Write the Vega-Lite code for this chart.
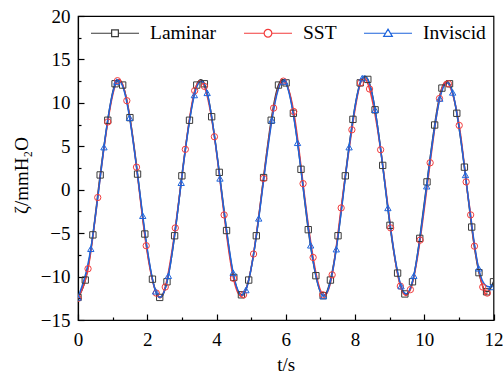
{
  "$schema": "https://vega.github.io/schema/vega-lite/v6.json",
  "width": 415.5,
  "height": 304,
  "autosize": "none",
  "padding": {"left": 78, "top": 16, "right": 10, "bottom": 55},
  "background": "white",
  "config": {
    "font": "Liberation Serif",
    "view": {"stroke": "black", "strokeWidth": 1.2},
    "legend": {"labelFont": "Liberation Serif", "titleFont": "Liberation Serif", "labelFontSize": 19.5},
    "axis": {
      "grid": false,
      "domainColor": "black",
      "domainWidth": 1.2,
      "tickColor": "black",
      "tickWidth": 1.2,
      "labelColor": "black",
      "labelFont": "Liberation Serif",
      "titleFont": "Liberation Serif",
      "labelFontSize": 19,
      "titleFontSize": 19,
      "titleFontWeight": "normal",
      "titleColor": "black",
      "labelFlush": false,
      "labelOverlap": false
    }
  },
  "data": {
    "values": [
      {"s": "Laminar", "t": 0.00, "z": -12.4},
      {"s": "Laminar", "t": 0.21, "z": -10.4},
      {"s": "Laminar", "t": 0.43, "z": -5.2},
      {"s": "Laminar", "t": 0.64, "z": 1.7},
      {"s": "Laminar", "t": 0.86, "z": 8.0},
      {"s": "Laminar", "t": 1.07, "z": 12.2},
      {"s": "Laminar", "t": 1.29, "z": 12.05},
      {"s": "Laminar", "t": 1.50, "z": 8.3},
      {"s": "Laminar", "t": 1.72, "z": 1.8},
      {"s": "Laminar", "t": 1.93, "z": -5.1},
      {"s": "Laminar", "t": 2.15, "z": -10.3},
      {"s": "Laminar", "t": 2.36, "z": -12.4},
      {"s": "Laminar", "t": 2.57, "z": -10.6},
      {"s": "Laminar", "t": 2.79, "z": -5.3},
      {"s": "Laminar", "t": 3.00, "z": 1.6},
      {"s": "Laminar", "t": 3.22, "z": 8.0},
      {"s": "Laminar", "t": 3.43, "z": 12.05},
      {"s": "Laminar", "t": 3.65, "z": 12.2},
      {"s": "Laminar", "t": 3.86, "z": 8.4},
      {"s": "Laminar", "t": 4.08, "z": 2.0},
      {"s": "Laminar", "t": 4.29, "z": -4.7},
      {"s": "Laminar", "t": 4.50, "z": -10.1},
      {"s": "Laminar", "t": 4.72, "z": -12.1},
      {"s": "Laminar", "t": 4.93, "z": -10.4},
      {"s": "Laminar", "t": 5.15, "z": -5.3},
      {"s": "Laminar", "t": 5.36, "z": 1.4},
      {"s": "Laminar", "t": 5.58, "z": 8.0},
      {"s": "Laminar", "t": 5.79, "z": 12.05},
      {"s": "Laminar", "t": 6.01, "z": 12.3},
      {"s": "Laminar", "t": 6.22, "z": 8.8},
      {"s": "Laminar", "t": 6.44, "z": 2.35},
      {"s": "Laminar", "t": 6.65, "z": -4.6},
      {"s": "Laminar", "t": 6.87, "z": -9.9},
      {"s": "Laminar", "t": 7.08, "z": -12.2},
      {"s": "Laminar", "t": 7.29, "z": -10.4},
      {"s": "Laminar", "t": 7.51, "z": -5.3},
      {"s": "Laminar", "t": 7.72, "z": 1.6},
      {"s": "Laminar", "t": 7.94, "z": 8.1},
      {"s": "Laminar", "t": 8.15, "z": 12.3},
      {"s": "Laminar", "t": 8.37, "z": 12.7},
      {"s": "Laminar", "t": 8.58, "z": 9.2},
      {"s": "Laminar", "t": 8.80, "z": 2.8},
      {"s": "Laminar", "t": 9.01, "z": -4.1},
      {"s": "Laminar", "t": 9.23, "z": -9.6},
      {"s": "Laminar", "t": 9.44, "z": -12.0},
      {"s": "Laminar", "t": 9.66, "z": -10.6},
      {"s": "Laminar", "t": 9.87, "z": -5.6},
      {"s": "Laminar", "t": 10.08, "z": 0.9},
      {"s": "Laminar", "t": 10.30, "z": 7.45},
      {"s": "Laminar", "t": 10.51, "z": 11.7},
      {"s": "Laminar", "t": 10.73, "z": 12.2},
      {"s": "Laminar", "t": 10.94, "z": 8.8},
      {"s": "Laminar", "t": 11.16, "z": 2.6},
      {"s": "Laminar", "t": 11.37, "z": -4.3},
      {"s": "Laminar", "t": 11.58, "z": -9.55},
      {"s": "Laminar", "t": 11.80, "z": -11.75},
      {"s": "Laminar", "t": 12.00, "z": -10.6},
      {"s": "SST", "t": 0.00, "z": -12.5},
      {"s": "SST", "t": 0.29, "z": -9.1},
      {"s": "SST", "t": 0.57, "z": -0.9},
      {"s": "SST", "t": 0.86, "z": 7.8},
      {"s": "SST", "t": 1.14, "z": 12.55},
      {"s": "SST", "t": 1.41, "z": 10.25},
      {"s": "SST", "t": 1.69, "z": 2.6},
      {"s": "SST", "t": 1.97, "z": -6.45},
      {"s": "SST", "t": 2.26, "z": -11.9},
      {"s": "SST", "t": 2.52, "z": -11.2},
      {"s": "SST", "t": 2.81, "z": -4.4},
      {"s": "SST", "t": 3.10, "z": 4.65},
      {"s": "SST", "t": 3.37, "z": 11.4},
      {"s": "SST", "t": 3.65, "z": 11.9},
      {"s": "SST", "t": 3.94, "z": 6.1},
      {"s": "SST", "t": 4.22, "z": -2.9},
      {"s": "SST", "t": 4.49, "z": -10.2},
      {"s": "SST", "t": 4.78, "z": -12.1},
      {"s": "SST", "t": 5.07, "z": -7.4},
      {"s": "SST", "t": 5.36, "z": 1.3},
      {"s": "SST", "t": 5.65, "z": 9.4},
      {"s": "SST", "t": 5.93, "z": 12.5},
      {"s": "SST", "t": 6.23, "z": 9.0},
      {"s": "SST", "t": 6.50, "z": 0.7},
      {"s": "SST", "t": 6.79, "z": -7.8},
      {"s": "SST", "t": 7.07, "z": -12.1},
      {"s": "SST", "t": 7.34, "z": -9.8},
      {"s": "SST", "t": 7.60, "z": -2.1},
      {"s": "SST", "t": 7.91, "z": 6.9},
      {"s": "SST", "t": 8.16, "z": 12.3},
      {"s": "SST", "t": 8.42, "z": 11.6},
      {"s": "SST", "t": 8.74, "z": 4.6},
      {"s": "SST", "t": 9.03, "z": -4.4},
      {"s": "SST", "t": 9.31, "z": -11.1},
      {"s": "SST", "t": 9.60, "z": -11.5},
      {"s": "SST", "t": 9.88, "z": -5.8},
      {"s": "SST", "t": 10.17, "z": 3.1},
      {"s": "SST", "t": 10.44, "z": 10.5},
      {"s": "SST", "t": 10.70, "z": 12.2},
      {"s": "SST", "t": 11.01, "z": 7.4},
      {"s": "SST", "t": 11.21, "z": 0.9},
      {"s": "SST", "t": 11.34, "z": -2.9},
      {"s": "SST", "t": 11.45, "z": -6.5},
      {"s": "SST", "t": 11.69, "z": -11.2},
      {"s": "SST", "t": 11.82, "z": -11.9},
      {"s": "Inviscid", "t": 0.00, "z": -12.4},
      {"s": "Inviscid", "t": 0.37, "z": -6.8},
      {"s": "Inviscid", "t": 0.75, "z": 4.9},
      {"s": "Inviscid", "t": 1.12, "z": 12.45},
      {"s": "Inviscid", "t": 1.49, "z": 8.3},
      {"s": "Inviscid", "t": 1.87, "z": -3.0},
      {"s": "Inviscid", "t": 2.24, "z": -11.7},
      {"s": "Inviscid", "t": 2.61, "z": -9.9},
      {"s": "Inviscid", "t": 2.98, "z": 0.8},
      {"s": "Inviscid", "t": 3.36, "z": 10.9},
      {"s": "Inviscid", "t": 3.73, "z": 11.15},
      {"s": "Inviscid", "t": 4.10, "z": 1.3},
      {"s": "Inviscid", "t": 4.48, "z": -9.55},
      {"s": "Inviscid", "t": 4.85, "z": -11.55},
      {"s": "Inviscid", "t": 5.22, "z": -3.3},
      {"s": "Inviscid", "t": 5.60, "z": 8.0},
      {"s": "Inviscid", "t": 5.97, "z": 12.45},
      {"s": "Inviscid", "t": 6.34, "z": 5.4},
      {"s": "Inviscid", "t": 6.72, "z": -6.4},
      {"s": "Inviscid", "t": 7.09, "z": -12.25},
      {"s": "Inviscid", "t": 7.46, "z": -6.85},
      {"s": "Inviscid", "t": 7.83, "z": 4.9},
      {"s": "Inviscid", "t": 8.21, "z": 12.85},
      {"s": "Inviscid", "t": 8.58, "z": 9.2},
      {"s": "Inviscid", "t": 8.95, "z": -2.1},
      {"s": "Inviscid", "t": 9.33, "z": -11.1},
      {"s": "Inviscid", "t": 9.70, "z": -9.9},
      {"s": "Inviscid", "t": 10.07, "z": 0.4},
      {"s": "Inviscid", "t": 10.45, "z": 10.5},
      {"s": "Inviscid", "t": 10.82, "z": 11.2},
      {"s": "Inviscid", "t": 11.19, "z": 1.7},
      {"s": "Inviscid", "t": 11.57, "z": -9.05},
      {"s": "Inviscid", "t": 11.94, "z": -11.2}
    ]
  },
  "encoding": {
    "x": {
      "field": "t",
      "type": "quantitative",
      "scale": {"domain": [0, 12], "nice": false, "zero": false},
      "axis": {
        "title": "t/s",
        "values": [0, 1, 2, 3, 4, 5, 6, 7, 8, 9, 10, 11, 12],
        "labelExpr": "datum.value % 2 === 0 ? datum.label : ''",
        "tickSize": {"condition": {"test": "datum.value % 2 !== 0", "value": -3}, "value": -6},
        "labelPadding": 16,
        "titlePadding": 3
      }
    },
    "y": {
      "field": "z",
      "type": "quantitative",
      "scale": {"domain": [-15, 20], "nice": false, "zero": false},
      "axis": {
        "title": "ζ/mmH₂O",
        "values": [-15, -12.5, -10, -7.5, -5, -2.5, 0, 2.5, 5, 7.5, 10, 12.5, 15, 17.5, 20],
        "labelExpr": "datum.value % 5 === 0 ? datum.label : ''",
        "tickSize": {"condition": {"test": "datum.value % 5 !== 0", "value": -3}, "value": -6},
        "labelPadding": 14,
        "titlePadding": 9,
        "titleY": 159
      }
    }
  },
  "layer": [
    {
      "mark": {"type": "line", "interpolate": "natural", "strokeWidth": 1.5, "clip": true},
      "encoding": {
        "color": {
          "field": "s",
          "type": "nominal",
          "scale": {"domain": ["Laminar", "SST", "Inviscid"], "range": ["#3a3a3a", "#f23c3c", "#1e64dc"]},
          "legend": null
        }
      }
    },
    {
      "mark": {"type": "point", "filled": false, "size": 40, "strokeWidth": 1, "opacity": 1, "clip": true},
      "encoding": {
        "color": {
          "field": "s",
          "type": "nominal",
          "scale": {"domain": ["Laminar", "SST", "Inviscid"], "range": ["#3a3a3a", "#f23c3c", "#1e64dc"]},
          "legend": null
        },
        "shape": {
          "field": "s",
          "type": "nominal",
          "scale": {"domain": ["Laminar", "SST", "Inviscid"], "range": ["square", "circle", "triangle-up"]},
          "legend": null
        }
      }
    },
    {
      "mark": {"type": "point", "filled": false, "size": 2304, "strokeWidth": 1.2, "opacity": 0},
      "encoding": {
        "stroke": {
          "field": "s",
          "type": "nominal",
          "scale": {"domain": ["Laminar", "SST", "Inviscid"], "range": ["#3a3a3a", "#f23c3c", "#1e64dc"]},
          "legend": {
            "orient": "none", "legendX": 12, "legendY": -8, "direction": "horizontal", "title": null,
            "symbolSize": 2304, "symbolStrokeWidth": 1.2, "labelFont": "Liberation Serif", "labelFontSize": 19.5, "labelOffset": 10,
            "columnPadding": 24, "padding": 0, "labelColor": "black",
            "encode": {
              "symbols": {"update": {"opacity": {"value": 1}}},
              "labels": {"update": {"font": {"value": "Liberation Serif"}, "fontSize": {"value": 19.5}, "fill": {"value": "black"}}}
            }
          }
        },
        "shape": {
          "field": "s",
          "type": "nominal",
          "scale": {
            "domain": ["Laminar", "SST", "Inviscid"],
            "range": [
              "M-1,0H-0.14M0.14,0H1M-0.14,-0.14H0.14V0.14H-0.14Z",
              "M-1,0H-0.16M0.16,0H1M-0.16,0A0.16,0.16,0,1,0,0.16,0A0.16,0.16,0,1,0,-0.16,0Z",
              "M-1,0H-0.13M0.13,0H1M0,-0.17L0.18,0.13H-0.18Z"
            ]
          },
          "legend": {
            "orient": "none", "legendX": 12, "legendY": -8, "direction": "horizontal", "title": null,
            "symbolSize": 2304, "symbolStrokeWidth": 1.2, "labelFont": "Liberation Serif", "labelFontSize": 19.5, "labelOffset": 10,
            "columnPadding": 24, "padding": 0, "labelColor": "black",
            "encode": {
              "symbols": {"update": {"opacity": {"value": 1}}},
              "labels": {"update": {"font": {"value": "Liberation Serif"}, "fontSize": {"value": 19.5}, "fill": {"value": "black"}}}
            }
          }
        }
      }
    }
  ],
  "resolve": {"scale": {"shape": "independent", "stroke": "independent"}}
}
